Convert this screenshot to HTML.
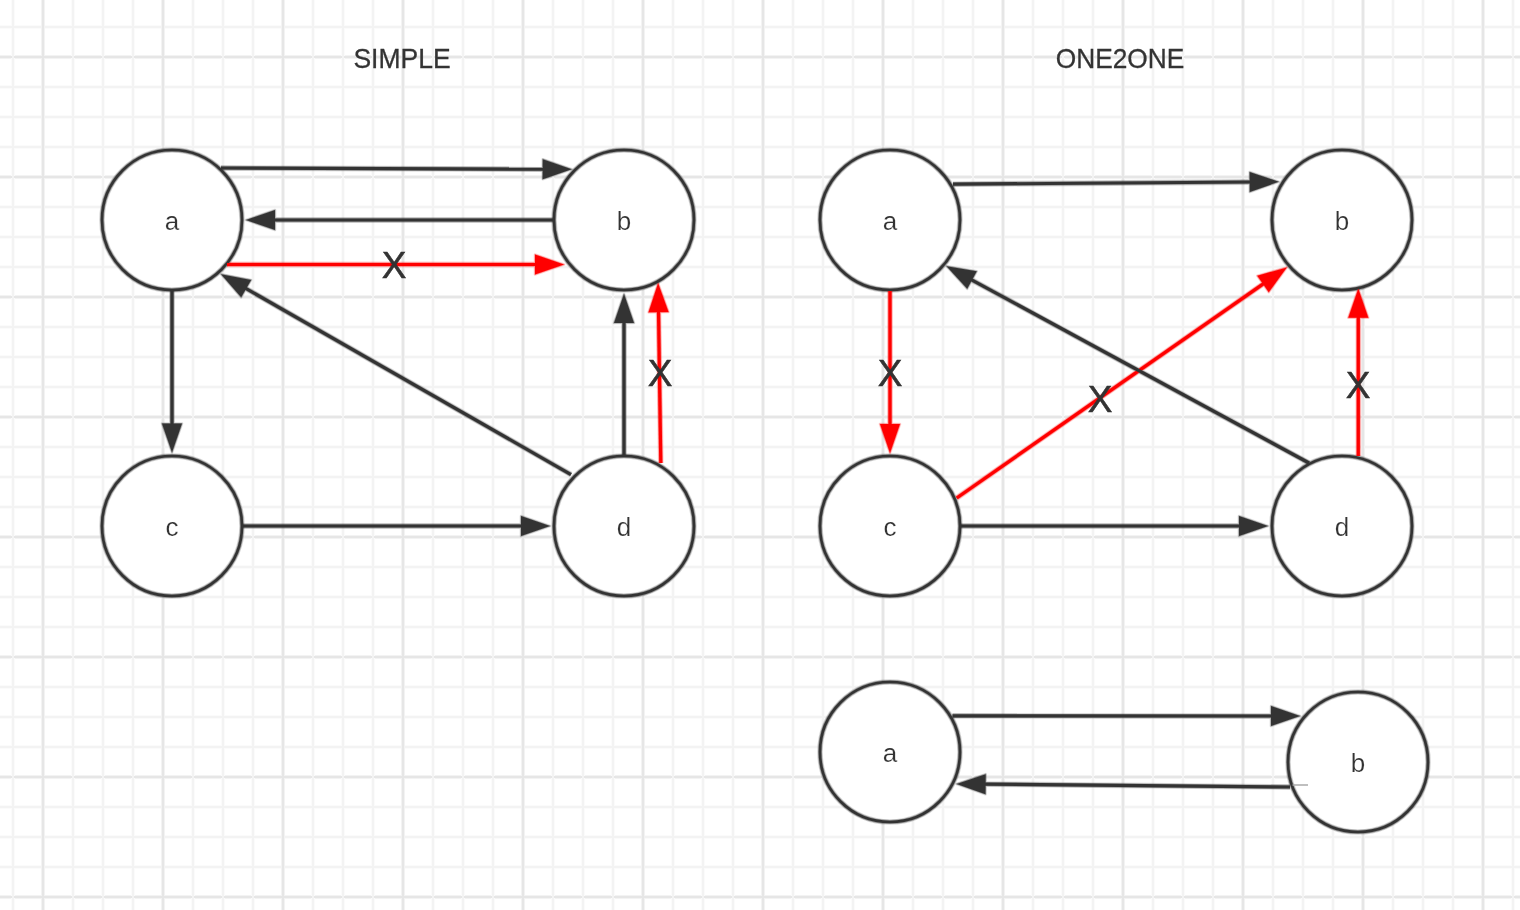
<!DOCTYPE html>
<html><head><meta charset="utf-8"><style>
html,body{margin:0;padding:0;background:#fff;width:1520px;height:910px;overflow:hidden}
svg{display:block}
text{font-family:"Liberation Sans",sans-serif;fill:#333333;text-anchor:middle}
.lbl{font-size:26px;stroke:#fff;stroke-width:0.2px}
.xm{font-size:37px;stroke:#333;stroke-width:0.5px}
.ttl{font-size:27.4px;stroke:#333;stroke-width:0.3px}
</style></head><body>
<svg width="1520" height="910" viewBox="0 0 1520 910">
<rect width="1520" height="910" fill="#ffffff"/>
<g shape-rendering="crispEdges"><rect x="0" y="25" width="1520" height="4" fill="#fbfbfb"/><rect x="0" y="55" width="1520" height="4" fill="#f3f3f3"/><rect x="0" y="85" width="1520" height="4" fill="#fbfbfb"/><rect x="0" y="115" width="1520" height="4" fill="#fbfbfb"/><rect x="0" y="145" width="1520" height="4" fill="#fbfbfb"/><rect x="0" y="175" width="1520" height="4" fill="#f3f3f3"/><rect x="0" y="205" width="1520" height="4" fill="#fbfbfb"/><rect x="0" y="235" width="1520" height="4" fill="#fbfbfb"/><rect x="0" y="265" width="1520" height="4" fill="#fbfbfb"/><rect x="0" y="295" width="1520" height="4" fill="#f3f3f3"/><rect x="0" y="325" width="1520" height="4" fill="#fbfbfb"/><rect x="0" y="355" width="1520" height="4" fill="#fbfbfb"/><rect x="0" y="385" width="1520" height="4" fill="#fbfbfb"/><rect x="0" y="415" width="1520" height="4" fill="#f3f3f3"/><rect x="0" y="445" width="1520" height="4" fill="#fbfbfb"/><rect x="0" y="475" width="1520" height="4" fill="#fbfbfb"/><rect x="0" y="505" width="1520" height="4" fill="#fbfbfb"/><rect x="0" y="535" width="1520" height="4" fill="#f3f3f3"/><rect x="0" y="565" width="1520" height="4" fill="#fbfbfb"/><rect x="0" y="595" width="1520" height="4" fill="#fbfbfb"/><rect x="0" y="625" width="1520" height="4" fill="#fbfbfb"/><rect x="0" y="655" width="1520" height="4" fill="#f3f3f3"/><rect x="0" y="685" width="1520" height="4" fill="#fbfbfb"/><rect x="0" y="715" width="1520" height="4" fill="#fbfbfb"/><rect x="0" y="745" width="1520" height="4" fill="#fbfbfb"/><rect x="0" y="775" width="1520" height="4" fill="#f3f3f3"/><rect x="0" y="805" width="1520" height="4" fill="#fbfbfb"/><rect x="0" y="835" width="1520" height="4" fill="#fbfbfb"/><rect x="0" y="865" width="1520" height="4" fill="#fbfbfb"/><rect x="0" y="895" width="1520" height="4" fill="#f3f3f3"/><rect x="11" y="0" width="4" height="910" fill="#fbfbfb"/><rect x="41" y="0" width="4" height="910" fill="#f3f3f3"/><rect x="71" y="0" width="4" height="910" fill="#fbfbfb"/><rect x="101" y="0" width="4" height="910" fill="#fbfbfb"/><rect x="131" y="0" width="4" height="910" fill="#fbfbfb"/><rect x="161" y="0" width="4" height="910" fill="#f3f3f3"/><rect x="191" y="0" width="4" height="910" fill="#fbfbfb"/><rect x="221" y="0" width="4" height="910" fill="#fbfbfb"/><rect x="251" y="0" width="4" height="910" fill="#fbfbfb"/><rect x="281" y="0" width="4" height="910" fill="#f3f3f3"/><rect x="311" y="0" width="4" height="910" fill="#fbfbfb"/><rect x="341" y="0" width="4" height="910" fill="#fbfbfb"/><rect x="371" y="0" width="4" height="910" fill="#fbfbfb"/><rect x="401" y="0" width="4" height="910" fill="#f3f3f3"/><rect x="431" y="0" width="4" height="910" fill="#fbfbfb"/><rect x="461" y="0" width="4" height="910" fill="#fbfbfb"/><rect x="491" y="0" width="4" height="910" fill="#fbfbfb"/><rect x="521" y="0" width="4" height="910" fill="#f3f3f3"/><rect x="551" y="0" width="4" height="910" fill="#fbfbfb"/><rect x="581" y="0" width="4" height="910" fill="#fbfbfb"/><rect x="611" y="0" width="4" height="910" fill="#fbfbfb"/><rect x="641" y="0" width="4" height="910" fill="#f3f3f3"/><rect x="671" y="0" width="4" height="910" fill="#fbfbfb"/><rect x="701" y="0" width="4" height="910" fill="#fbfbfb"/><rect x="731" y="0" width="4" height="910" fill="#fbfbfb"/><rect x="761" y="0" width="4" height="910" fill="#f3f3f3"/><rect x="791" y="0" width="4" height="910" fill="#fbfbfb"/><rect x="821" y="0" width="4" height="910" fill="#fbfbfb"/><rect x="851" y="0" width="4" height="910" fill="#fbfbfb"/><rect x="881" y="0" width="4" height="910" fill="#f3f3f3"/><rect x="911" y="0" width="4" height="910" fill="#fbfbfb"/><rect x="941" y="0" width="4" height="910" fill="#fbfbfb"/><rect x="971" y="0" width="4" height="910" fill="#fbfbfb"/><rect x="1001" y="0" width="4" height="910" fill="#f3f3f3"/><rect x="1031" y="0" width="4" height="910" fill="#fbfbfb"/><rect x="1061" y="0" width="4" height="910" fill="#fbfbfb"/><rect x="1091" y="0" width="4" height="910" fill="#fbfbfb"/><rect x="1121" y="0" width="4" height="910" fill="#f3f3f3"/><rect x="1151" y="0" width="4" height="910" fill="#fbfbfb"/><rect x="1181" y="0" width="4" height="910" fill="#fbfbfb"/><rect x="1211" y="0" width="4" height="910" fill="#fbfbfb"/><rect x="1241" y="0" width="4" height="910" fill="#f3f3f3"/><rect x="1271" y="0" width="4" height="910" fill="#fbfbfb"/><rect x="1301" y="0" width="4" height="910" fill="#fbfbfb"/><rect x="1331" y="0" width="4" height="910" fill="#fbfbfb"/><rect x="1361" y="0" width="4" height="910" fill="#f3f3f3"/><rect x="1391" y="0" width="4" height="910" fill="#fbfbfb"/><rect x="1421" y="0" width="4" height="910" fill="#fbfbfb"/><rect x="1451" y="0" width="4" height="910" fill="#fbfbfb"/><rect x="1481" y="0" width="4" height="910" fill="#f3f3f3"/><rect x="1511" y="0" width="4" height="910" fill="#fbfbfb"/><rect x="0" y="26" width="1520" height="2" fill="#f3f3f3"/><rect x="0" y="56" width="1520" height="2" fill="#e6e6e6"/><rect x="0" y="86" width="1520" height="2" fill="#f3f3f3"/><rect x="0" y="116" width="1520" height="2" fill="#f3f3f3"/><rect x="0" y="146" width="1520" height="2" fill="#f3f3f3"/><rect x="0" y="176" width="1520" height="2" fill="#e6e6e6"/><rect x="0" y="206" width="1520" height="2" fill="#f3f3f3"/><rect x="0" y="236" width="1520" height="2" fill="#f3f3f3"/><rect x="0" y="266" width="1520" height="2" fill="#f3f3f3"/><rect x="0" y="296" width="1520" height="2" fill="#e6e6e6"/><rect x="0" y="326" width="1520" height="2" fill="#f3f3f3"/><rect x="0" y="356" width="1520" height="2" fill="#f3f3f3"/><rect x="0" y="386" width="1520" height="2" fill="#f3f3f3"/><rect x="0" y="416" width="1520" height="2" fill="#e6e6e6"/><rect x="0" y="446" width="1520" height="2" fill="#f3f3f3"/><rect x="0" y="476" width="1520" height="2" fill="#f3f3f3"/><rect x="0" y="506" width="1520" height="2" fill="#f3f3f3"/><rect x="0" y="536" width="1520" height="2" fill="#e6e6e6"/><rect x="0" y="566" width="1520" height="2" fill="#f3f3f3"/><rect x="0" y="596" width="1520" height="2" fill="#f3f3f3"/><rect x="0" y="626" width="1520" height="2" fill="#f3f3f3"/><rect x="0" y="656" width="1520" height="2" fill="#e6e6e6"/><rect x="0" y="686" width="1520" height="2" fill="#f3f3f3"/><rect x="0" y="716" width="1520" height="2" fill="#f3f3f3"/><rect x="0" y="746" width="1520" height="2" fill="#f3f3f3"/><rect x="0" y="776" width="1520" height="2" fill="#e6e6e6"/><rect x="0" y="806" width="1520" height="2" fill="#f3f3f3"/><rect x="0" y="836" width="1520" height="2" fill="#f3f3f3"/><rect x="0" y="866" width="1520" height="2" fill="#f3f3f3"/><rect x="0" y="896" width="1520" height="2" fill="#e6e6e6"/><rect x="12" y="0" width="2" height="910" fill="#f3f3f3"/><rect x="42" y="0" width="2" height="910" fill="#e6e6e6"/><rect x="72" y="0" width="2" height="910" fill="#f3f3f3"/><rect x="102" y="0" width="2" height="910" fill="#f3f3f3"/><rect x="132" y="0" width="2" height="910" fill="#f3f3f3"/><rect x="162" y="0" width="2" height="910" fill="#e6e6e6"/><rect x="192" y="0" width="2" height="910" fill="#f3f3f3"/><rect x="222" y="0" width="2" height="910" fill="#f3f3f3"/><rect x="252" y="0" width="2" height="910" fill="#f3f3f3"/><rect x="282" y="0" width="2" height="910" fill="#e6e6e6"/><rect x="312" y="0" width="2" height="910" fill="#f3f3f3"/><rect x="342" y="0" width="2" height="910" fill="#f3f3f3"/><rect x="372" y="0" width="2" height="910" fill="#f3f3f3"/><rect x="402" y="0" width="2" height="910" fill="#e6e6e6"/><rect x="432" y="0" width="2" height="910" fill="#f3f3f3"/><rect x="462" y="0" width="2" height="910" fill="#f3f3f3"/><rect x="492" y="0" width="2" height="910" fill="#f3f3f3"/><rect x="522" y="0" width="2" height="910" fill="#e6e6e6"/><rect x="552" y="0" width="2" height="910" fill="#f3f3f3"/><rect x="582" y="0" width="2" height="910" fill="#f3f3f3"/><rect x="612" y="0" width="2" height="910" fill="#f3f3f3"/><rect x="642" y="0" width="2" height="910" fill="#e6e6e6"/><rect x="672" y="0" width="2" height="910" fill="#f3f3f3"/><rect x="702" y="0" width="2" height="910" fill="#f3f3f3"/><rect x="732" y="0" width="2" height="910" fill="#f3f3f3"/><rect x="762" y="0" width="2" height="910" fill="#e6e6e6"/><rect x="792" y="0" width="2" height="910" fill="#f3f3f3"/><rect x="822" y="0" width="2" height="910" fill="#f3f3f3"/><rect x="852" y="0" width="2" height="910" fill="#f3f3f3"/><rect x="882" y="0" width="2" height="910" fill="#e6e6e6"/><rect x="912" y="0" width="2" height="910" fill="#f3f3f3"/><rect x="942" y="0" width="2" height="910" fill="#f3f3f3"/><rect x="972" y="0" width="2" height="910" fill="#f3f3f3"/><rect x="1002" y="0" width="2" height="910" fill="#e6e6e6"/><rect x="1032" y="0" width="2" height="910" fill="#f3f3f3"/><rect x="1062" y="0" width="2" height="910" fill="#f3f3f3"/><rect x="1092" y="0" width="2" height="910" fill="#f3f3f3"/><rect x="1122" y="0" width="2" height="910" fill="#e6e6e6"/><rect x="1152" y="0" width="2" height="910" fill="#f3f3f3"/><rect x="1182" y="0" width="2" height="910" fill="#f3f3f3"/><rect x="1212" y="0" width="2" height="910" fill="#f3f3f3"/><rect x="1242" y="0" width="2" height="910" fill="#e6e6e6"/><rect x="1272" y="0" width="2" height="910" fill="#f3f3f3"/><rect x="1302" y="0" width="2" height="910" fill="#f3f3f3"/><rect x="1332" y="0" width="2" height="910" fill="#f3f3f3"/><rect x="1362" y="0" width="2" height="910" fill="#e6e6e6"/><rect x="1392" y="0" width="2" height="910" fill="#f3f3f3"/><rect x="1422" y="0" width="2" height="910" fill="#f3f3f3"/><rect x="1452" y="0" width="2" height="910" fill="#f3f3f3"/><rect x="1482" y="0" width="2" height="910" fill="#e6e6e6"/><rect x="1512" y="0" width="2" height="910" fill="#f3f3f3"/></g>
<g><circle cx="172" cy="220" r="70" fill="#ffffff"/><circle cx="624" cy="220" r="70" fill="#ffffff"/><circle cx="172" cy="526" r="70" fill="#ffffff"/><circle cx="624" cy="526" r="70" fill="#ffffff"/><circle cx="890" cy="220" r="70" fill="#ffffff"/><circle cx="1342" cy="220" r="70" fill="#ffffff"/><circle cx="890" cy="526" r="70" fill="#ffffff"/><circle cx="1342" cy="526" r="70" fill="#ffffff"/><circle cx="890" cy="752" r="70" fill="#ffffff"/><circle cx="1358" cy="762" r="70" fill="#ffffff"/></g>
<g opacity="0.4"><circle cx="172" cy="220" r="70" fill="none" stroke="#333333" stroke-width="4.0"/><circle cx="624" cy="220" r="70" fill="none" stroke="#333333" stroke-width="4.0"/><circle cx="172" cy="526" r="70" fill="none" stroke="#333333" stroke-width="4.0"/><circle cx="624" cy="526" r="70" fill="none" stroke="#333333" stroke-width="4.0"/><circle cx="890" cy="220" r="70" fill="none" stroke="#333333" stroke-width="4.0"/><circle cx="1342" cy="220" r="70" fill="none" stroke="#333333" stroke-width="4.0"/><circle cx="890" cy="526" r="70" fill="none" stroke="#333333" stroke-width="4.0"/><circle cx="1342" cy="526" r="70" fill="none" stroke="#333333" stroke-width="4.0"/><circle cx="890" cy="752" r="70" fill="none" stroke="#333333" stroke-width="4.0"/><circle cx="1358" cy="762" r="70" fill="none" stroke="#333333" stroke-width="4.0"/></g><g opacity="0.2"><circle cx="172" cy="220" r="70" fill="none" stroke="#333333" stroke-width="5.6"/><circle cx="624" cy="220" r="70" fill="none" stroke="#333333" stroke-width="5.6"/><circle cx="172" cy="526" r="70" fill="none" stroke="#333333" stroke-width="5.6"/><circle cx="624" cy="526" r="70" fill="none" stroke="#333333" stroke-width="5.6"/><circle cx="890" cy="220" r="70" fill="none" stroke="#333333" stroke-width="5.6"/><circle cx="1342" cy="220" r="70" fill="none" stroke="#333333" stroke-width="5.6"/><circle cx="890" cy="526" r="70" fill="none" stroke="#333333" stroke-width="5.6"/><circle cx="1342" cy="526" r="70" fill="none" stroke="#333333" stroke-width="5.6"/><circle cx="890" cy="752" r="70" fill="none" stroke="#333333" stroke-width="5.6"/><circle cx="1358" cy="762" r="70" fill="none" stroke="#333333" stroke-width="5.6"/></g>
<g opacity="0.35"><line x1="221.00" y1="168.00" x2="544.70" y2="169.20" stroke="#333333" stroke-width="4.4"/><polygon points="571.70,169.30 542.66,179.19 542.74,159.19" fill="#333333" stroke="#333333" stroke-width="1.2" stroke-linejoin="round"/><line x1="553.00" y1="220.00" x2="273.00" y2="220.00" stroke="#333333" stroke-width="4.4"/><polygon points="246.00,220.00 275.00,210.00 275.00,230.00" fill="#333333" stroke="#333333" stroke-width="1.2" stroke-linejoin="round"/><line x1="227.00" y1="264.50" x2="537.00" y2="264.50" stroke="#ff0000" stroke-width="4.4"/><polygon points="564.00,264.50 535.00,274.50 535.00,254.50" fill="#ff0000" stroke="#ff0000" stroke-width="1.2" stroke-linejoin="round"/><line x1="172.00" y1="290.00" x2="172.00" y2="425.50" stroke="#333333" stroke-width="4.4"/><polygon points="172.00,452.50 162.00,423.50 182.00,423.50" fill="#333333" stroke="#333333" stroke-width="1.2" stroke-linejoin="round"/><line x1="571.00" y1="474.60" x2="244.43" y2="287.62" stroke="#333333" stroke-width="4.4"/><polygon points="221.00,274.20 251.14,279.93 241.20,297.29" fill="#333333" stroke="#333333" stroke-width="1.2" stroke-linejoin="round"/><line x1="243.00" y1="526.00" x2="523.00" y2="526.00" stroke="#333333" stroke-width="4.4"/><polygon points="550.00,526.00 521.00,536.00 521.00,516.00" fill="#333333" stroke="#333333" stroke-width="1.2" stroke-linejoin="round"/><line x1="624.00" y1="455.00" x2="624.00" y2="321.00" stroke="#333333" stroke-width="4.4"/><polygon points="624.00,294.00 634.00,323.00 614.00,323.00" fill="#333333" stroke="#333333" stroke-width="1.2" stroke-linejoin="round"/><line x1="660.80" y1="463.00" x2="658.51" y2="310.20" stroke="#ff0000" stroke-width="4.4"/><polygon points="658.10,283.20 668.53,312.05 648.54,312.35" fill="#ff0000" stroke="#ff0000" stroke-width="1.2" stroke-linejoin="round"/><line x1="953.00" y1="184.20" x2="1251.70" y2="182.00" stroke="#333333" stroke-width="4.4"/><polygon points="1278.70,181.80 1249.77,192.01 1249.63,172.01" fill="#333333" stroke="#333333" stroke-width="1.2" stroke-linejoin="round"/><line x1="956.70" y1="498.00" x2="1264.67" y2="282.86" stroke="#ff0000" stroke-width="4.4"/><polygon points="1286.80,267.40 1268.75,292.21 1257.30,275.81" fill="#ff0000" stroke="#ff0000" stroke-width="1.2" stroke-linejoin="round"/><line x1="1309.00" y1="463.00" x2="970.23" y2="279.08" stroke="#333333" stroke-width="4.4"/><polygon points="946.50,266.20 976.76,271.25 967.22,288.82" fill="#333333" stroke="#333333" stroke-width="1.2" stroke-linejoin="round"/><line x1="890.00" y1="291.00" x2="890.00" y2="426.00" stroke="#ff0000" stroke-width="4.4"/><polygon points="890.00,453.00 880.00,424.00 900.00,424.00" fill="#ff0000" stroke="#ff0000" stroke-width="1.2" stroke-linejoin="round"/><line x1="1358.30" y1="456.00" x2="1358.30" y2="315.70" stroke="#ff0000" stroke-width="4.4"/><polygon points="1358.30,288.70 1368.30,317.70 1348.30,317.70" fill="#ff0000" stroke="#ff0000" stroke-width="1.2" stroke-linejoin="round"/><line x1="961.00" y1="526.00" x2="1241.00" y2="526.00" stroke="#333333" stroke-width="4.4"/><polygon points="1268.00,526.00 1239.00,536.00 1239.00,516.00" fill="#333333" stroke="#333333" stroke-width="1.2" stroke-linejoin="round"/><line x1="952.50" y1="715.80" x2="1273.00" y2="715.98" stroke="#333333" stroke-width="4.4"/><polygon points="1300.00,716.00 1270.99,725.98 1271.01,705.98" fill="#333333" stroke="#333333" stroke-width="1.2" stroke-linejoin="round"/><line x1="1290.00" y1="787.00" x2="983.60" y2="784.15" stroke="#333333" stroke-width="4.4"/><polygon points="956.60,783.90 985.69,774.17 985.51,794.17" fill="#333333" stroke="#333333" stroke-width="1.2" stroke-linejoin="round"/></g><g opacity="0.18"><line x1="221.00" y1="168.00" x2="544.70" y2="169.20" stroke="#333333" stroke-width="5.800000000000001"/><polygon points="571.70,169.30 542.66,179.19 542.74,159.19" fill="#333333" stroke="#333333" stroke-width="2.6" stroke-linejoin="round"/><line x1="553.00" y1="220.00" x2="273.00" y2="220.00" stroke="#333333" stroke-width="5.800000000000001"/><polygon points="246.00,220.00 275.00,210.00 275.00,230.00" fill="#333333" stroke="#333333" stroke-width="2.6" stroke-linejoin="round"/><line x1="227.00" y1="264.50" x2="537.00" y2="264.50" stroke="#ff0000" stroke-width="5.800000000000001"/><polygon points="564.00,264.50 535.00,274.50 535.00,254.50" fill="#ff0000" stroke="#ff0000" stroke-width="2.6" stroke-linejoin="round"/><line x1="172.00" y1="290.00" x2="172.00" y2="425.50" stroke="#333333" stroke-width="5.800000000000001"/><polygon points="172.00,452.50 162.00,423.50 182.00,423.50" fill="#333333" stroke="#333333" stroke-width="2.6" stroke-linejoin="round"/><line x1="571.00" y1="474.60" x2="244.43" y2="287.62" stroke="#333333" stroke-width="5.800000000000001"/><polygon points="221.00,274.20 251.14,279.93 241.20,297.29" fill="#333333" stroke="#333333" stroke-width="2.6" stroke-linejoin="round"/><line x1="243.00" y1="526.00" x2="523.00" y2="526.00" stroke="#333333" stroke-width="5.800000000000001"/><polygon points="550.00,526.00 521.00,536.00 521.00,516.00" fill="#333333" stroke="#333333" stroke-width="2.6" stroke-linejoin="round"/><line x1="624.00" y1="455.00" x2="624.00" y2="321.00" stroke="#333333" stroke-width="5.800000000000001"/><polygon points="624.00,294.00 634.00,323.00 614.00,323.00" fill="#333333" stroke="#333333" stroke-width="2.6" stroke-linejoin="round"/><line x1="660.80" y1="463.00" x2="658.51" y2="310.20" stroke="#ff0000" stroke-width="5.800000000000001"/><polygon points="658.10,283.20 668.53,312.05 648.54,312.35" fill="#ff0000" stroke="#ff0000" stroke-width="2.6" stroke-linejoin="round"/><line x1="953.00" y1="184.20" x2="1251.70" y2="182.00" stroke="#333333" stroke-width="5.800000000000001"/><polygon points="1278.70,181.80 1249.77,192.01 1249.63,172.01" fill="#333333" stroke="#333333" stroke-width="2.6" stroke-linejoin="round"/><line x1="956.70" y1="498.00" x2="1264.67" y2="282.86" stroke="#ff0000" stroke-width="5.800000000000001"/><polygon points="1286.80,267.40 1268.75,292.21 1257.30,275.81" fill="#ff0000" stroke="#ff0000" stroke-width="2.6" stroke-linejoin="round"/><line x1="1309.00" y1="463.00" x2="970.23" y2="279.08" stroke="#333333" stroke-width="5.800000000000001"/><polygon points="946.50,266.20 976.76,271.25 967.22,288.82" fill="#333333" stroke="#333333" stroke-width="2.6" stroke-linejoin="round"/><line x1="890.00" y1="291.00" x2="890.00" y2="426.00" stroke="#ff0000" stroke-width="5.800000000000001"/><polygon points="890.00,453.00 880.00,424.00 900.00,424.00" fill="#ff0000" stroke="#ff0000" stroke-width="2.6" stroke-linejoin="round"/><line x1="1358.30" y1="456.00" x2="1358.30" y2="315.70" stroke="#ff0000" stroke-width="5.800000000000001"/><polygon points="1358.30,288.70 1368.30,317.70 1348.30,317.70" fill="#ff0000" stroke="#ff0000" stroke-width="2.6" stroke-linejoin="round"/><line x1="961.00" y1="526.00" x2="1241.00" y2="526.00" stroke="#333333" stroke-width="5.800000000000001"/><polygon points="1268.00,526.00 1239.00,536.00 1239.00,516.00" fill="#333333" stroke="#333333" stroke-width="2.6" stroke-linejoin="round"/><line x1="952.50" y1="715.80" x2="1273.00" y2="715.98" stroke="#333333" stroke-width="5.800000000000001"/><polygon points="1300.00,716.00 1270.99,725.98 1271.01,705.98" fill="#333333" stroke="#333333" stroke-width="2.6" stroke-linejoin="round"/><line x1="1290.00" y1="787.00" x2="983.60" y2="784.15" stroke="#333333" stroke-width="5.800000000000001"/><polygon points="956.60,783.90 985.69,774.17 985.51,794.17" fill="#333333" stroke="#333333" stroke-width="2.6" stroke-linejoin="round"/></g>
<g><circle cx="172" cy="220" r="70" fill="none" stroke="#333333" stroke-width="2.6"/><circle cx="624" cy="220" r="70" fill="none" stroke="#333333" stroke-width="2.6"/><circle cx="172" cy="526" r="70" fill="none" stroke="#333333" stroke-width="2.6"/><circle cx="624" cy="526" r="70" fill="none" stroke="#333333" stroke-width="2.6"/><circle cx="890" cy="220" r="70" fill="none" stroke="#333333" stroke-width="2.6"/><circle cx="1342" cy="220" r="70" fill="none" stroke="#333333" stroke-width="2.6"/><circle cx="890" cy="526" r="70" fill="none" stroke="#333333" stroke-width="2.6"/><circle cx="1342" cy="526" r="70" fill="none" stroke="#333333" stroke-width="2.6"/><circle cx="890" cy="752" r="70" fill="none" stroke="#333333" stroke-width="2.6"/><circle cx="1358" cy="762" r="70" fill="none" stroke="#333333" stroke-width="2.6"/><line x1="221.00" y1="168.00" x2="544.70" y2="169.20" stroke="#333333" stroke-width="3.2"/><polygon points="571.70,169.30 542.66,179.19 542.74,159.19" fill="#333333"/><line x1="553.00" y1="220.00" x2="273.00" y2="220.00" stroke="#333333" stroke-width="3.2"/><polygon points="246.00,220.00 275.00,210.00 275.00,230.00" fill="#333333"/><line x1="227.00" y1="264.50" x2="537.00" y2="264.50" stroke="#ff0000" stroke-width="3.2"/><polygon points="564.00,264.50 535.00,274.50 535.00,254.50" fill="#ff0000"/><line x1="172.00" y1="290.00" x2="172.00" y2="425.50" stroke="#333333" stroke-width="3.2"/><polygon points="172.00,452.50 162.00,423.50 182.00,423.50" fill="#333333"/><line x1="571.00" y1="474.60" x2="244.43" y2="287.62" stroke="#333333" stroke-width="3.2"/><polygon points="221.00,274.20 251.14,279.93 241.20,297.29" fill="#333333"/><line x1="243.00" y1="526.00" x2="523.00" y2="526.00" stroke="#333333" stroke-width="3.2"/><polygon points="550.00,526.00 521.00,536.00 521.00,516.00" fill="#333333"/><line x1="624.00" y1="455.00" x2="624.00" y2="321.00" stroke="#333333" stroke-width="3.2"/><polygon points="624.00,294.00 634.00,323.00 614.00,323.00" fill="#333333"/><line x1="660.80" y1="463.00" x2="658.51" y2="310.20" stroke="#ff0000" stroke-width="3.2"/><polygon points="658.10,283.20 668.53,312.05 648.54,312.35" fill="#ff0000"/><line x1="953.00" y1="184.20" x2="1251.70" y2="182.00" stroke="#333333" stroke-width="3.2"/><polygon points="1278.70,181.80 1249.77,192.01 1249.63,172.01" fill="#333333"/><line x1="956.70" y1="498.00" x2="1264.67" y2="282.86" stroke="#ff0000" stroke-width="3.2"/><polygon points="1286.80,267.40 1268.75,292.21 1257.30,275.81" fill="#ff0000"/><line x1="1309.00" y1="463.00" x2="970.23" y2="279.08" stroke="#333333" stroke-width="3.2"/><polygon points="946.50,266.20 976.76,271.25 967.22,288.82" fill="#333333"/><line x1="890.00" y1="291.00" x2="890.00" y2="426.00" stroke="#ff0000" stroke-width="3.2"/><polygon points="890.00,453.00 880.00,424.00 900.00,424.00" fill="#ff0000"/><line x1="1358.30" y1="456.00" x2="1358.30" y2="315.70" stroke="#ff0000" stroke-width="3.2"/><polygon points="1358.30,288.70 1368.30,317.70 1348.30,317.70" fill="#ff0000"/><line x1="961.00" y1="526.00" x2="1241.00" y2="526.00" stroke="#333333" stroke-width="3.2"/><polygon points="1268.00,526.00 1239.00,536.00 1239.00,516.00" fill="#333333"/><line x1="952.50" y1="715.80" x2="1273.00" y2="715.98" stroke="#333333" stroke-width="3.2"/><polygon points="1300.00,716.00 1270.99,725.98 1271.01,705.98" fill="#333333"/><line x1="1290.00" y1="787.00" x2="983.60" y2="784.15" stroke="#333333" stroke-width="3.2"/><polygon points="956.60,783.90 985.69,774.17 985.51,794.17" fill="#333333"/><line x1="1292.5" y1="785" x2="1308" y2="785" stroke="#aaaaaa" stroke-width="1.5"/></g>
<g opacity="0.999"><text transform="translate(172,230) scale(1.0,1)" class="lbl">a</text><text transform="translate(624,230) scale(1.0,1)" class="lbl">b</text><text transform="translate(172,536) scale(1.0,1)" class="lbl">c</text><text transform="translate(624,536) scale(1.0,1)" class="lbl">d</text><text transform="translate(890,230) scale(1.0,1)" class="lbl">a</text><text transform="translate(1342,230) scale(1.0,1)" class="lbl">b</text><text transform="translate(890,536) scale(1.0,1)" class="lbl">c</text><text transform="translate(1342,536) scale(1.0,1)" class="lbl">d</text><text transform="translate(890,762) scale(1.0,1)" class="lbl">a</text><text transform="translate(1358,772) scale(1.0,1)" class="lbl">b</text><text x="394" y="278" class="xm">X</text><text x="660" y="386" class="xm">X</text><text x="890" y="386" class="xm">X</text><text x="1100" y="412" class="xm">X</text><text x="1358" y="398" class="xm">X</text><text transform="translate(402,68) scale(0.967,1)" class="ttl">SIMPLE</text><text transform="translate(1120,68) scale(0.96,1)" class="ttl">ONE2ONE</text></g>
</svg></body></html>
